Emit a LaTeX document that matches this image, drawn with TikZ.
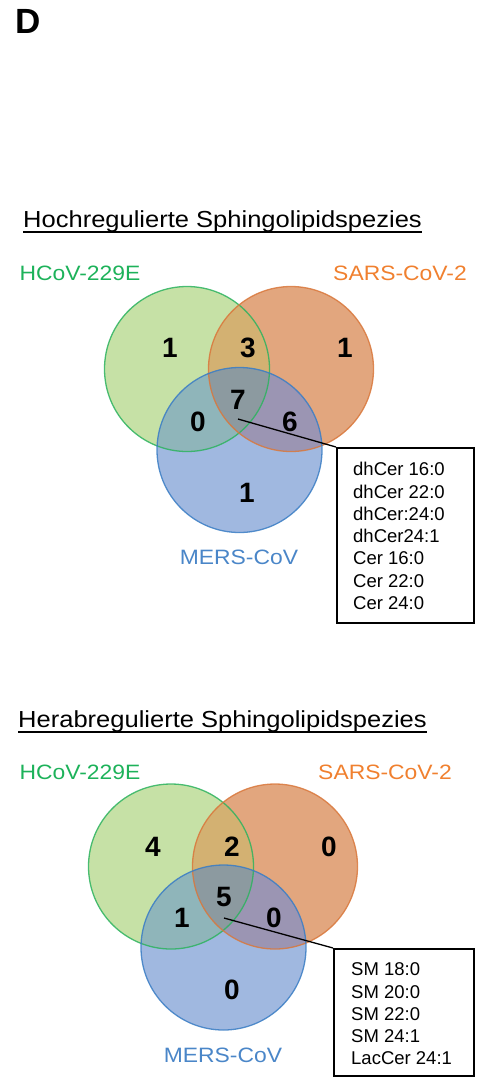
\documentclass[tikz,border=0pt]{standalone}
\usepackage{fontspec}
\setmainfont{Liberation Sans}
\newfontfamily\widefont[FakeStretch=1.1]{Liberation Sans}
\definecolor{gfill}{HTML}{C6E1A6}
\definecolor{ofill}{HTML}{E2A67E}
\definecolor{bfill}{HTML}{A0B8E0}
\definecolor{gofill}{HTML}{D3B172}
\definecolor{gbfill}{HTML}{8FB5BA}
\definecolor{obfill}{HTML}{9B95B3}
\definecolor{allfill}{HTML}{8C9AA0}
\definecolor{gline}{HTML}{2DB35F}
\definecolor{oline}{HTML}{D9783C}
\definecolor{bline}{HTML}{3A7DC4}
\definecolor{gtext}{HTML}{1DB25A}
\definecolor{otext}{HTML}{F0802F}
\definecolor{btext}{HTML}{4A86C8}
\begin{document}
\begin{tikzpicture}[x=1pt,y=-1pt,
  num/.style={font=\fontsize{28}{28}\selectfont\bfseries, inner sep=0pt},
  lab/.style={font=\widefont\fontsize{20.8}{24}\selectfont, inner sep=0pt},
  ttl/.style={font=\widefont\fontsize{23.2}{28}\selectfont, inner sep=0pt, anchor=base west},
  item/.style={font=\fontsize{18.5}{22.3}\selectfont, align=left, inner sep=0pt, anchor=west},
  listbox/.style={draw, line width=1.8pt, anchor=north west, inner sep=0pt},
  conn/.style={line width=1.3pt},
  uline/.style={line width=1.4pt},
  ring/.style={line width=1.3pt, draw opacity=0.85}]
\useasboundingbox (0,0) rectangle (479,1077);

\node[font=\fontsize{35}{35}\selectfont\bfseries, inner sep=0pt] (D) at (28.5,21) {D};

% ---------- top Venn ----------
\node[ttl] (t1) at (23,227.3) {Hochregulierte Sphingolipidspezies};
\draw[uline] ([yshift=-4.5pt]t1.base west) -- ([yshift=-4.5pt]t1.base east);

\coordinate (G1) at (187,369);
\coordinate (O1) at (291,369);
\coordinate (B1) at (239.5,450);
\fill[gfill] (G1) circle (82.5pt);
\fill[ofill] (O1) circle (82.5pt);
\fill[bfill] (B1) circle (82.5pt);
\begin{scope}\clip (G1) circle (82.5pt); \fill[gofill] (O1) circle (82.5pt);\end{scope}
\begin{scope}\clip (G1) circle (82.5pt); \fill[gbfill] (B1) circle (82.5pt);\end{scope}
\begin{scope}\clip (O1) circle (82.5pt); \fill[obfill] (B1) circle (82.5pt);\end{scope}
\begin{scope}\clip (G1) circle (82.5pt); \clip (O1) circle (82.5pt); \fill[allfill] (B1) circle (82.5pt);\end{scope}
\draw[ring, gline] (G1) circle (82.5pt);
\draw[ring, oline] (O1) circle (82.5pt);
\draw[ring, bline] (B1) circle (82.5pt);

\node[lab, text=gtext] (l1g) at (80,273) {HCoV-229E};
\node[lab, text=otext] (l1o) at (400,273) {SARS-CoV-2};
\node[lab, text=btext] (l1b) at (239,557) {MERS-CoV};

\node[num] (n1g) at (170,348) {1};
\node[num] (n1go) at (248,348) {3};
\node[num] (n1o) at (345,348) {1};
\node[num] (n1all) at (238,400) {7};
\node[num] (n1gb) at (198,422) {0};
\node[num] (n1ob) at (290,422) {6};
\node[num] (n1b) at (247,493) {1};

\node[listbox, minimum width=137pt, minimum height=175pt] (box1) at (336,447) {};
\node[item] (list1) at (353,536) {dhCer 16:0\\dhCer 22:0\\dhCer:24:0\\dhCer24:1\\Cer 16:0\\Cer 22:0\\Cer 24:0};
\coordinate (p1) at (238,419);
\draw[conn] (p1) -- (box1.north west);

% ---------- bottom Venn ----------
\node[ttl] (t2) at (18,727.3) {Herabregulierte Sphingolipidspezies};
\draw[uline] ([yshift=-4.5pt]t2.base west) -- ([yshift=-4.5pt]t2.base east);

\coordinate (G2) at (171,866.5);
\coordinate (O2) at (275,866.5);
\coordinate (B2) at (223.5,947.5);
\fill[gfill] (G2) circle (82.5pt);
\fill[ofill] (O2) circle (82.5pt);
\fill[bfill] (B2) circle (82.5pt);
\begin{scope}\clip (G2) circle (82.5pt); \fill[gofill] (O2) circle (82.5pt);\end{scope}
\begin{scope}\clip (G2) circle (82.5pt); \fill[gbfill] (B2) circle (82.5pt);\end{scope}
\begin{scope}\clip (O2) circle (82.5pt); \fill[obfill] (B2) circle (82.5pt);\end{scope}
\begin{scope}\clip (G2) circle (82.5pt); \clip (O2) circle (82.5pt); \fill[allfill] (B2) circle (82.5pt);\end{scope}
\draw[ring, gline] (G2) circle (82.5pt);
\draw[ring, oline] (O2) circle (82.5pt);
\draw[ring, bline] (B2) circle (82.5pt);

\node[lab, text=gtext] (l2g) at (80,772) {HCoV-229E};
\node[lab, text=otext] (l2o) at (385,772) {SARS-CoV-2};
\node[lab, text=btext] (l2b) at (223,1055) {MERS-CoV};

\node[num] (n2g) at (153,847) {4};
\node[num] (n2go) at (232,847) {2};
\node[num] (n2o) at (329,847) {0};
\node[num] (n2all) at (224,897) {5};
\node[num] (n2gb) at (182,918) {1};
\node[num] (n2ob) at (274,918) {0};
\node[num] (n2b) at (232,990) {0};

\node[listbox, minimum width=140pt, minimum height=127pt] (box2) at (333,948) {};
\node[item] (list2) at (351,1014) {SM 18:0\\SM 20:0\\SM 22:0\\SM 24:1\\LacCer 24:1};
\coordinate (p2) at (224,918);
\draw[conn] (p2) -- (box2.north west);
\end{tikzpicture}
\end{document}
